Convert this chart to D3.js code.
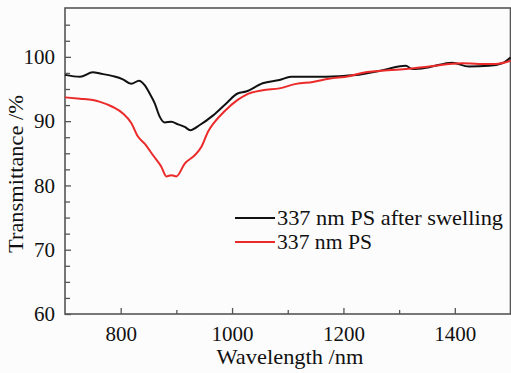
<!DOCTYPE html>
<html>
<head>
<meta charset="utf-8">
<script src="https://cdn.jsdelivr.net/npm/d3@7"></script>
<style>
  body { margin: 0; background: #fcfcfc; }
  svg { display: block; }
  text { fill: #111; }
</style>
</head>
<body>
<svg id="chart"></svg>
<script>
const width = 511;
const height = 373;
const fontStack = '"Liberation Serif", "Times New Roman", serif';

// data
const wlAfter = [700, 727, 750, 763, 786, 804, 819, 833, 843, 852, 861, 870, 879, 891, 903, 915, 925, 942, 966, 990, 1010, 1025, 1055, 1085, 1106, 1151, 1192, 1228, 1264, 1312, 1324, 1354, 1395, 1425, 1461, 1485, 1500];
const tAfter  = [97.2, 96.9, 97.6, 97.4, 97.0, 96.5, 95.8, 96.3, 95.6, 94.3, 92.8, 90.7, 89.8, 89.9, 89.5, 89.1, 88.6, 89.4, 90.9, 92.8, 94.3, 94.6, 95.9, 96.4, 96.9, 96.9, 97.0, 97.2, 97.8, 98.6, 98.1, 98.4, 99.1, 98.5, 98.6, 99.0, 99.9];

const wlPS = [700, 727, 750, 763, 786, 804, 819, 831, 843, 858, 873, 882, 891, 900, 915, 933, 945, 957, 969, 986, 1010, 1025, 1055, 1085, 1115, 1145, 1174, 1210, 1240, 1264, 1312, 1354, 1413, 1443, 1473, 1500];
const tPS  = [93.7, 93.5, 93.3, 93.0, 92.2, 91.2, 89.7, 87.6, 86.5, 84.7, 82.9, 81.4, 81.6, 81.4, 83.4, 84.7, 86.0, 88.4, 89.9, 91.5, 93.3, 94.1, 94.8, 95.1, 95.8, 96.1, 96.6, 97.0, 97.6, 97.8, 98.1, 98.5, 99.0, 98.9, 98.9, 99.4];

const xTicks = [800, 900, 1000, 1100, 1200, 1300, 1400];
const xLabels = [800, 1000, 1200, 1400];
const yTicks = d3.range(60, 107.5, 2.5);
const yLabels = [60, 70, 80, 90, 100];

const seriesNames = ["337 nm PS after swelling", "337 nm PS"];
const seriesColors = ["#111111", "#ec2a2a"];
const legendWidths = [226, 95];

const margin = {left: 65, right: 0.5, top: 8, bottom: 59};

const x = d3.scaleLinear().domain([700, 1500]).range([margin.left, width - margin.right]);
const y = d3.scaleLinear().domain([60, 107.6]).range([height - margin.bottom, margin.top]);

const svg = d3.select("#chart").attr("width", width).attr("height", height)
    .attr("font-family", fontStack);

// axes
const xAxis = d3.axisBottom(x)
    .tickValues(xTicks)
    .tickSizeInner(-5).tickSizeOuter(0).tickPadding(12)
    .tickFormat(d => xLabels.includes(d) ? d : "");
const gx = svg.append("g")
    .attr("transform", `translate(0,${height - margin.bottom})`)
    .call(xAxis);

const yAxis = d3.axisLeft(y)
    .tickValues(yTicks)
    .tickSizeInner(-5).tickSizeOuter(0).tickPadding(10)
    .tickFormat(d => yLabels.includes(d) ? d : "");
const gy = svg.append("g")
    .attr("transform", `translate(${margin.left},0)`)
    .call(yAxis);

[gx, gy].forEach(g => {
    g.attr("font-family", fontStack).attr("font-size", 21);
    g.select(".domain").remove();
    g.selectAll(".tick line").attr("stroke", "#555").attr("stroke-width", 1.3);
    g.selectAll(".tick text").attr("fill", "#111");
});
gx.selectAll(".tick line").attr("y2", d => xLabels.includes(d) ? -6 : -4);
gy.selectAll(".tick line").attr("x2", d => yLabels.includes(d) ? 6 : 5);

// frame
svg.append("rect")
    .attr("x", margin.left)
    .attr("y", margin.top)
    .attr("width", width - margin.right - margin.left)
    .attr("height", height - margin.bottom - margin.top)
    .attr("fill", "none")
    .attr("stroke", "#555")
    .attr("stroke-width", 1.6);

// lines
const line = d3.line()
    .x(d => x(d[0]))
    .y(d => y(d[1]))
    .curve(d3.curveMonotoneX);

const series = [
    d3.zip(wlAfter, tAfter),
    d3.zip(wlPS, tPS)
];

svg.append("g")
    .selectAll("path")
    .data(series)
    .enter().append("path")
    .attr("d", line)
    .attr("fill", "none")
    .attr("stroke", (d, i) => seriesColors[i])
    .attr("stroke-width", 2);

// legend
const legend = svg.append("g").attr("transform", "translate(235,218)");
seriesNames.forEach((name, i) => {
    legend.append("line")
        .attr("x1", 0).attr("x2", 40)
        .attr("y1", i * 24).attr("y2", i * 24)
        .attr("stroke", seriesColors[i])
        .attr("stroke-width", 2);
    legend.append("text")
        .attr("x", 42)
        .attr("y", i * 24)
        .attr("dy", "0.33em")
        .attr("font-size", 21)
        .attr("textLength", legendWidths[i])
        .attr("lengthAdjust", "spacingAndGlyphs")
        .text(name);
});

// axis titles
svg.append("text")
    .attr("x", (margin.left + width) / 2 + 2)
    .attr("y", 364)
    .attr("text-anchor", "middle")
    .attr("font-size", 21)
    .attr("textLength", 147)
    .attr("lengthAdjust", "spacingAndGlyphs")
    .text("Wavelength /nm");

svg.append("text")
    .attr("transform", "translate(23,174) rotate(-90)")
    .attr("text-anchor", "middle")
    .attr("font-size", 21)
    .attr("textLength", 158)
    .attr("lengthAdjust", "spacingAndGlyphs")
    .text("Transmittance /%");
</script>
</body>
</html>
